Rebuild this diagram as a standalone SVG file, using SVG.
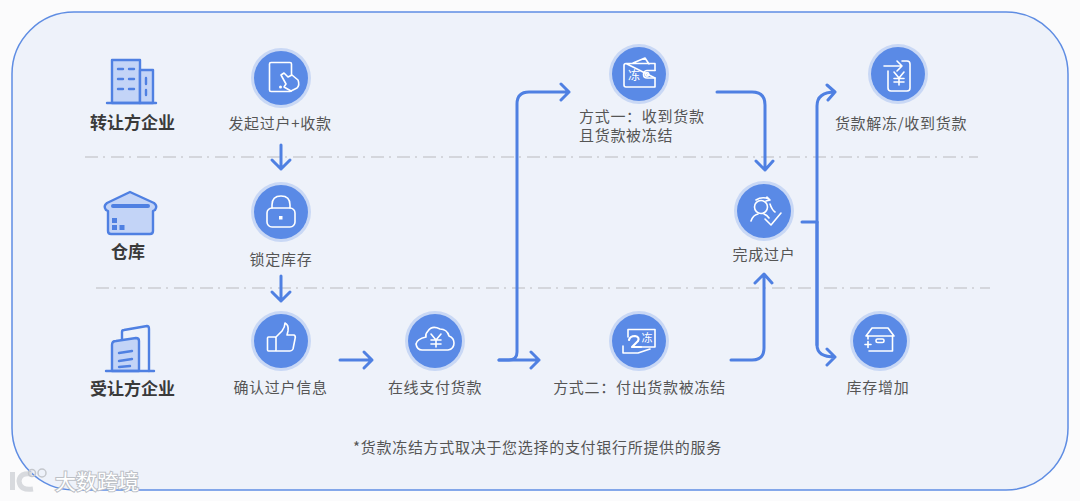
<svg xmlns="http://www.w3.org/2000/svg" width="1080" height="501" viewBox="0 0 1080 501">
<style>
text{font-family:"Noto Sans CJK SC","Noto Sans",sans-serif}
.lb{font-size:15px;fill:#555;letter-spacing:.7px;text-anchor:middle}
.ll{font-size:15px;fill:#555;letter-spacing:.7px}
.hd{font-size:17px;font-weight:700;fill:#3a3a3a;text-anchor:middle}
.halo{fill:#c9d8f5}
.disc{fill:#5a8ae6}
.ic{fill:none;stroke:#fff;stroke-width:1.6;stroke-linecap:round;stroke-linejoin:round}
.icf{fill:#fff}
.icw{fill:#5a8ae6;stroke:#fff;stroke-width:1.6;stroke-linejoin:round}
.it{font-size:12px;fill:#fff;text-anchor:middle}
.div{fill:none;stroke:#cbcdd2;stroke-width:1.6;stroke-dasharray:13 5 2 6}
.cn{fill:none;stroke:#4f80e2;stroke-width:3;stroke-linecap:round;stroke-linejoin:round}
.ro{fill:none;stroke:#4f80e2;stroke-width:2.4;stroke-linecap:round;stroke-linejoin:round}
.rf{fill:#c3d4f7;stroke:#4f80e2;stroke-width:2.4;stroke-linejoin:round}
.rs{fill:#4f80e2}
</style>
<rect width="1080" height="501" fill="#fbfbfc"/>
<rect id="panel" x="12" y="12" width="1056" height="478" rx="62" fill="#eef2fa" stroke="#5f8de3" stroke-width="1.5"/>

<g id="dividers">
<path class="div" d="M85 157H978"/>
<path class="div" d="M96 288H990"/>
</g>

<g id="connectors">
<path class="cn" d="M281 145V169M272 160L281 169L290 160"/>
<path class="cn" d="M281 276V301M272 292L281 301L290 292"/>
<path class="cn" d="M340 360H372M364 352L372 360L364 368"/>
<path class="cn" d="M499 360H509Q517 360 517 352V104Q517 92 529 92H569M561 84L569 92L561 100"/>
<path class="cn" d="M499 360H539M531 352L539 360L531 368"/>
<path class="cn" d="M717 92H752Q765 92 765 105V170M756 161L765 170L773 161"/>
<path class="cn" d="M731 360H752Q764 360 764 348V274M755 283L764 274L772 283"/>
<path class="cn" d="M802 222H817"/>
<path class="cn" d="M817 345V106Q817 92 835 92M827 85L835 92L828 100"/>
<path class="cn" d="M817 222V345Q817 357 835 357M827 349L835 357L827 365"/>
</g>

<g id="role-transfer">
<path class="rf" d="M112 60H140V103H112Z"/>
<path class="rf" d="M140 70H153V103H140Z"/>
<path class="ro" d="M118 69H123M129 69H134M118 79H123M129 79H134M118 89H123M129 89H134M146 78V84M146 90V95"/>
<path class="ro" d="M107 103H156"/>
<text class="hd" x="132.500" y="129">转让方企业</text>
</g>

<g id="role-warehouse">
<path class="rf" d="M130 192L154 203Q158 206 155 210L153 211V231Q153 234 150 234H111Q108 234 108 231V211L106 210Q103 206 107 203Z"/>
<path d="M113 206H148" stroke="#4f80e2" stroke-width="4" stroke-linecap="round"/>
<path class="rs" d="M112 218H117V223H112ZM112 225H117V230H112ZM119.500 225H124.500V230H119.500Z"/>
<text class="hd" x="128" y="258">仓库</text>
</g>

<g id="role-receiver">
<path class="ro" d="M122 341V332Q122 330 124 330L147 326Q149 326 149 329V371"/>
<path class="rf" d="M112 371V345Q112 341 116 341L136 338Q139 338 139 341V371Z"/>
<path class="ro" d="M119 353L132 351M119 361L132 359M119 367L130 366"/>
<path class="ro" d="M106 371H154"/>
<text class="hd" x="132.500" y="395">受让方企业</text>
</g>

<g id="node-initiate">
<circle class="halo" cx="281" cy="78" r="30"/><circle class="disc" cx="281" cy="78" r="27"/>
<rect class="ic" x="269.500" y="62.500" width="22" height="29" rx="1.500"/>
<circle class="icf" cx="280.500" cy="87" r="1.500"/>
<path class="icw" d="M281 75L284 73L288 77L292 75L298 80Q300 85 297 88L291 91L284 87L286 84Z"/>
<text class="lb" x="280" y="129">发起过户+收款</text>
</g>

<g id="node-lock">
<circle class="halo" cx="281" cy="212" r="30"/><circle class="disc" cx="281" cy="212" r="27"/>
<rect class="ic" x="267" y="208" width="28" height="19" rx="5"/>
<path class="ic" d="M272 208V205Q272 196 281 196Q290 196 290 205V208"/>
<rect class="icf" x="279" y="216" width="3.500" height="3.500"/>
<text class="lb" x="281" y="265">锁定库存</text>
</g>

<g id="node-confirm">
<circle class="halo" cx="281" cy="341" r="30"/><circle class="disc" cx="281" cy="341" r="27"/>
<rect class="ic" x="267.500" y="337" width="8.500" height="14" rx="1"/>
<path class="ic" d="M276 337L282 331Q285 327 285 323Q289 325 288 331L287 335H294Q296 336 295 339L293 349Q292 351 290 351H276"/>
<text class="lb" x="280.500" y="393">确认过户信息</text>
</g>

<g id="node-pay">
<circle class="halo" cx="435" cy="341" r="30"/><circle class="disc" cx="435" cy="341" r="27"/>
<path class="ic" d="M422 350H448Q454 349 454 343Q454 338 449 336Q447 329 440 329Q432 325 428 331Q425 334 426 337Q417 339 416 344Q417 350 422 350Z"/>
<path class="ic" d="M431 334L436 340L441 334M436 340V347M431 340H441M431 344H441"/>
<text class="lb" x="435" y="393">在线支付货款</text>
</g>

<g id="node-method1">
<circle class="halo" cx="639" cy="74" r="30"/><circle class="disc" cx="639" cy="74" r="27"/>
<path class="ic" d="M626 63.500H655V70.500M655 78V87H626Q624 87 624 85V65.500Q624 63.500 626 63.500ZM633 63L645 58L649 64"/>
<path class="ic" d="M655 70.500H647Q643.500 71 643.500 74.500Q643.500 78 647 78H655"/>
<circle class="ic" cx="647" cy="74.300" r="1.800"/>
<text class="it" x="634" y="80">冻</text>
<text class="ll" x="579" y="122">方式一&#xFF1A;收到货款</text>
<text class="ll" x="579" y="141">且货款被冻结</text>
</g>

<g id="node-method2">
<circle class="halo" cx="639" cy="341" r="30"/><circle class="disc" cx="639" cy="341" r="27"/>
<path class="ic" d="M628 337V329.500H655V347H641"/>
<path class="ic" d="M623 346V353H638L650 349"/>
<path class="ic" style="stroke-width:2.2" d="M629 340Q630 336 635 336Q640 337 638 341L632 347H641"/>
<text class="it" x="647" y="342" style="font-size:11px">冻</text>
<text class="lb" x="639.500" y="393">方式二&#xFF1A;付出货款被冻结</text>
</g>

<g id="node-complete">
<circle class="halo" cx="764" cy="211" r="30"/><circle class="disc" cx="764" cy="211" r="27"/>
<circle class="ic" cx="761" cy="207" r="6.500"/>
<path class="ic" d="M751 221Q753 215 758 214M764 214Q767 215 769 218"/>
<path class="ic" d="M756 200Q762 196 769 199M767 197L770 200L766 201"/>
<path class="ic" d="M770 204Q772 210 775 212M765 219L771 225L781 213"/>
<text class="lb" x="764" y="260">完成过户</text>
</g>

<g id="node-unfreeze">
<circle class="halo" cx="898" cy="74" r="30"/><circle class="disc" cx="898" cy="74" r="27"/>
<path class="ic" d="M902 61H907Q910 61 910 64V88Q910 91 907 91H891Q888 91 888 88V71"/>
<path class="ic" d="M884 66H902M897 61L902 66L897 71"/>
<path class="ic" d="M894 72L899 78L904 72M899 78V85M894 78.500H904M894 82H904"/>
<text class="lb" x="901" y="129">货款解冻/收到货款</text>
</g>

<g id="node-stock">
<circle class="halo" cx="880" cy="341" r="30"/><circle class="disc" cx="880" cy="341" r="27"/>
<path class="ic" d="M866 336L872 328H888L894 336Z"/>
<path class="ic" d="M868 336V339M892.500 336V351H869"/>
<rect class="ic" x="876" y="339" width="8" height="3.500" rx="1.500"/>
<path class="ic" d="M865 344.500H871M868 341.500V347.500"/>
<text class="lb" x="878" y="393">库存增加</text>
</g>

<text id="note" class="lb" x="537.500" y="453">*货款冻结方式取决于您选择的支付银行所提供的服务</text>

<g id="watermark">
<path d="M12.500 472V490" stroke="#d8dade" stroke-width="5"/>
<path d="M32 474Q20 472 19 481Q20 491 33 489" fill="none" stroke="#d8dade" stroke-width="5"/>
<circle cx="32" cy="473" r="3.500" fill="none" stroke="#c4c7cc" stroke-width="1.500"/>
<circle cx="42" cy="473" r="4" fill="none" stroke="#c4c7cc" stroke-width="1.500"/>
<text x="55" y="489" font-size="21" fill="#fff" stroke="#bcc0c6" stroke-width="2" paint-order="stroke">大数跨境</text>
</g>
</svg>
